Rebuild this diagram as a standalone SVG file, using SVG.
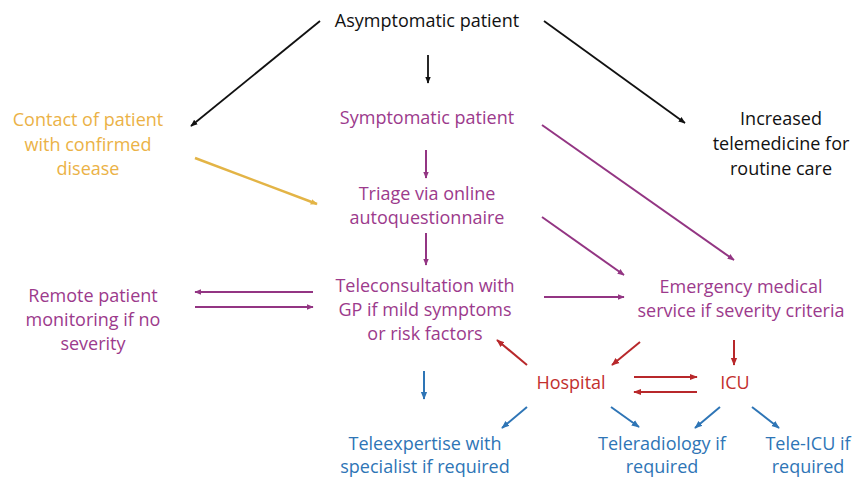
<svg xmlns="http://www.w3.org/2000/svg" width="854" height="479" viewBox="0 0 854 479">
<defs>
<style>
text{font-family:"Open Sans","Liberation Sans",sans-serif;font-size:18px;text-anchor:middle}
.k{fill:#111}.o{fill:#EBB246}.p{fill:#9C3A8C}.r{fill:#C2302E}.b{fill:#2E75B6}
.lk{stroke:#111;stroke-width:1.8;fill:none}
.lo{stroke:#E3B446;stroke-width:2.5;fill:none}
.lp{stroke:#933583;stroke-width:2;fill:none}
.lr{stroke:#B8282B;stroke-width:2;fill:none}
.lb{stroke:#2E75B6;stroke-width:2;fill:none}
</style>
<marker id="ak" viewBox="0 0 10 10" refX="9" refY="5" markerWidth="7" markerHeight="7" markerUnits="userSpaceOnUse" orient="auto"><path d="M0,1 L10,5 L0,9 z" fill="#111"/></marker>
<marker id="ao" viewBox="0 0 10 10" refX="9" refY="5" markerWidth="7" markerHeight="7" markerUnits="userSpaceOnUse" orient="auto"><path d="M0,1 L10,5 L0,9 z" fill="#E3B446"/></marker>
<marker id="ap" viewBox="0 0 10 10" refX="9" refY="5" markerWidth="7" markerHeight="7" markerUnits="userSpaceOnUse" orient="auto"><path d="M0,1 L10,5 L0,9 z" fill="#933583"/></marker>
<marker id="ar" viewBox="0 0 10 10" refX="9" refY="5" markerWidth="8" markerHeight="8" markerUnits="userSpaceOnUse" orient="auto"><path d="M0,1 L10,5 L0,9 z" fill="#B8282B"/></marker>
<marker id="ab" viewBox="0 0 10 10" refX="9" refY="5" markerWidth="8" markerHeight="8" markerUnits="userSpaceOnUse" orient="auto"><path d="M0,1 L10,5 L0,9 z" fill="#2E75B6"/></marker>
</defs>
<rect width="854" height="479" fill="#fff"/>

<g id="connectors">
<line class="lk" x1="320" y1="21" x2="191" y2="126" marker-end="url(#ak)"/>
<line class="lk" x1="428" y1="55" x2="428" y2="83" marker-end="url(#ak)"/>
<line class="lk" x1="544" y1="21" x2="685" y2="123" marker-end="url(#ak)"/>
<line class="lo" x1="195" y1="158" x2="317" y2="204" marker-end="url(#ao)"/>
<line class="lp" x1="426" y1="150" x2="426" y2="178" marker-end="url(#ap)"/>
<line class="lp" x1="426" y1="233" x2="426" y2="265" marker-end="url(#ap)"/>
<line class="lp" x1="542" y1="125" x2="734" y2="260" marker-end="url(#ap)"/>
<line class="lp" x1="542" y1="217" x2="624" y2="275" marker-end="url(#ap)"/>
<line class="lp" x1="544" y1="297" x2="624" y2="297" marker-end="url(#ap)"/>
<line class="lp" x1="313" y1="292" x2="195" y2="292" marker-end="url(#ap)"/>
<line class="lp" x1="195" y1="307" x2="313" y2="307" marker-end="url(#ap)"/>
<line class="lr" x1="734" y1="340" x2="734" y2="365" marker-end="url(#ar)"/>
<line class="lr" x1="640" y1="342" x2="612" y2="365" marker-end="url(#ar)"/>
<line class="lr" x1="527" y1="365" x2="497" y2="340" marker-end="url(#ar)"/>
<line class="lr" x1="634" y1="377" x2="697" y2="377" marker-end="url(#ar)"/>
<line class="lr" x1="697" y1="392" x2="634" y2="392" marker-end="url(#ar)"/>
<line class="lb" x1="424" y1="371" x2="424" y2="399" marker-end="url(#ab)"/>
<line class="lb" x1="527" y1="407" x2="502" y2="428" marker-end="url(#ab)"/>
<line class="lb" x1="611" y1="407" x2="639" y2="427" marker-end="url(#ab)"/>
<line class="lb" x1="720" y1="407" x2="695" y2="428" marker-end="url(#ab)"/>
<line class="lb" x1="752" y1="407" x2="779" y2="428" marker-end="url(#ab)"/>
</g>

<g id="asymptomatic"><text class="k" x="427" y="27">Asymptomatic patient</text></g>
<g id="contact"><text class="o" x="88" y="126">Contact of patient</text><text class="o" x="88" y="151">with confirmed</text><text class="o" x="88" y="175">disease</text></g>
<g id="symptomatic"><text class="p" x="427" y="124">Symptomatic patient</text></g>
<g id="increased"><text class="k" x="781" y="125">Increased</text><text class="k" x="781" y="150">telemedicine for</text><text class="k" x="781" y="175">routine care</text></g>
<g id="triage"><text class="p" x="427" y="200">Triage via online</text><text class="p" x="427" y="224">autoquestionnaire</text></g>
<g id="teleconsultation"><text class="p" x="425" y="292">Teleconsultation with</text><text class="p" x="425" y="316">GP if mild symptoms</text><text class="p" x="425" y="340">or risk factors</text></g>
<g id="remote"><text class="p" x="93" y="302">Remote patient</text><text class="p" x="93" y="326">monitoring if no</text><text class="p" x="93" y="350">severity</text></g>
<g id="emergency"><text class="p" x="741" y="293">Emergency medical</text><text class="p" x="741" y="317">service if severity criteria</text></g>
<g id="hospital"><text class="r" x="571" y="389">Hospital</text></g>
<g id="icu"><text class="r" x="735" y="389">ICU</text></g>
<g id="teleexpertise"><text class="b" x="425" y="450">Teleexpertise with</text><text class="b" x="425" y="473">specialist if required</text></g>
<g id="teleradiology"><text class="b" x="662" y="450">Teleradiology if</text><text class="b" x="662" y="473">required</text></g>
<g id="teleicu"><text class="b" x="808" y="450">Tele-ICU if</text><text class="b" x="808" y="473">required</text></g>
</svg>
